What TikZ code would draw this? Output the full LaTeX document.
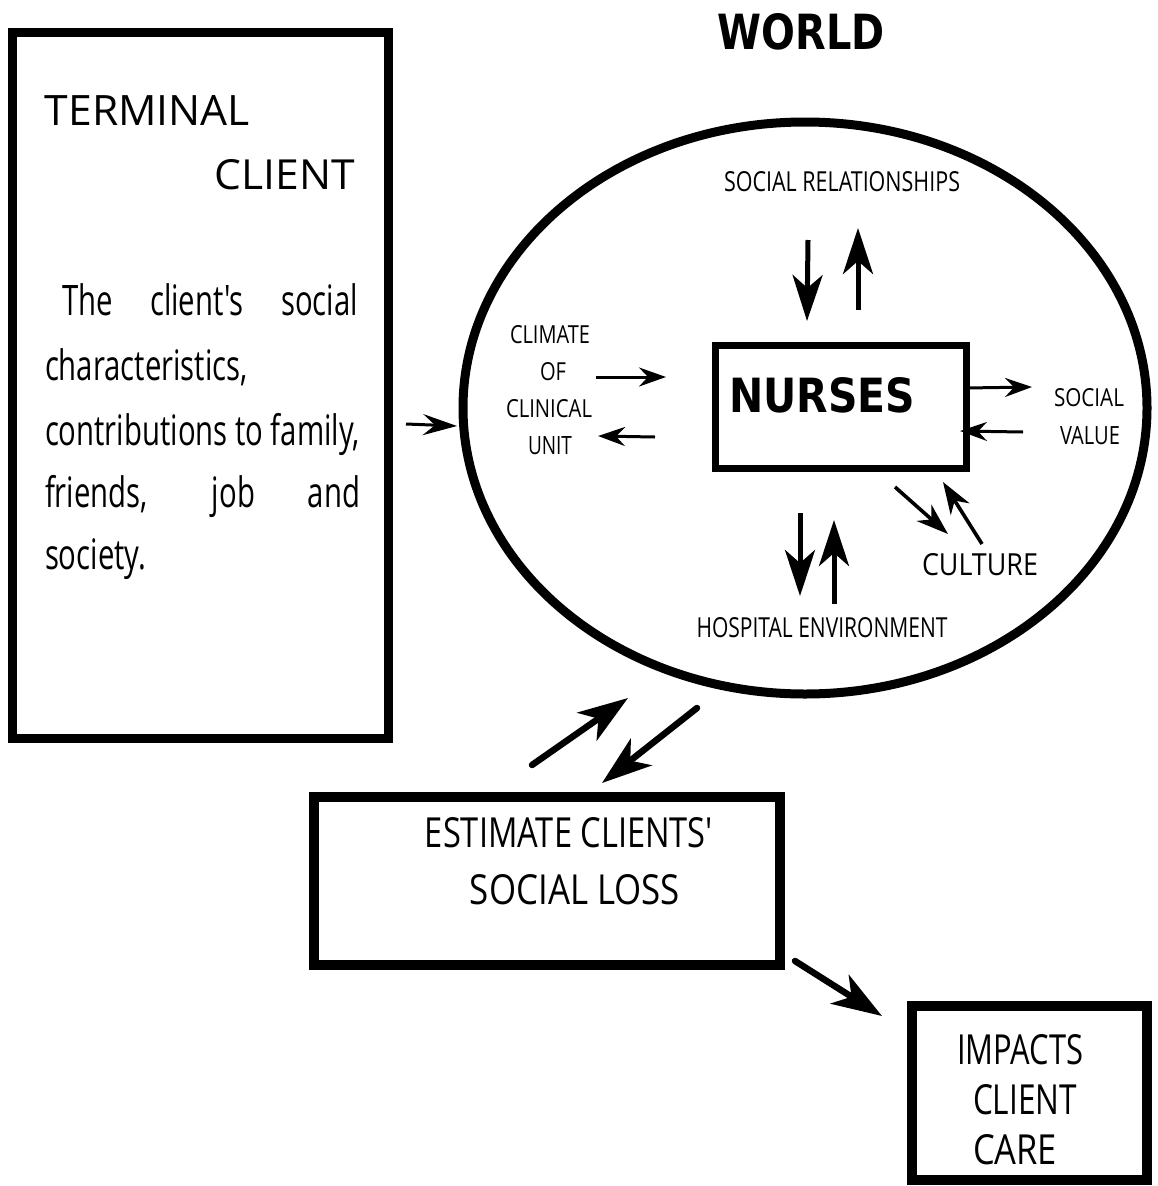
\documentclass[tikz,border=0pt]{standalone}
\usepackage{fontspec}
\usepackage{graphicx}
\usetikzlibrary{arrows.meta,shapes.geometric}
\setmainfont{Open Sans}
\newfontfamily\labf{Open Sans}
\newfontfamily\heavyf{DejaVu Sans}
\newfontfamily\bodyf{Open Sans}
\newcommand\fitt[3]{\resizebox{#1pt}{#2pt}{#3}}
\newcommand\bodysize{\bodyf\fontsize{42}{50}\selectfont}
\newlength\bodynat
\tikzset{
  lbl/.style={inner sep=0pt, outer sep=0pt},
  thinarr/.style={line width=3pt, -{Stealth[length=27pt,width=19pt,inset=9pt]}},
  entryarr/.style={line width=3pt, -{Stealth[length=34pt,width=21pt,inset=12pt]}},
  midarr/.style={line width=5pt, -{Stealth[length=46pt,width=30pt,inset=13pt]}},
  boldarr/.style={line width=6.5pt, line cap=round, -{Stealth[length=50pt,width=34pt,inset=14pt]}},
  cularr/.style={line width=3.6pt, -{Stealth[length=32pt,width=22pt,inset=10pt]}}
}
\begin{document}
\settowidth{\bodynat}{\bodysize contributions to family,}%
\pgfmathsetmacro\bsx{315/\bodynat}%
\pgfmathsetmacro\wA{296/\bsx}%
\pgfmathsetmacro\wB{315/\bsx}%
\begin{tikzpicture}[x=1pt,y=-1pt]
\fill[white] (0,0) rectangle (1157,1186);
\useasboundingbox (0,0) rectangle (1157,1186);

% ---------- left box ----------
\node[draw, line width=9pt, minimum width=376pt, minimum height=706pt, inner sep=0pt] (term) at (200,385) {};
\node[lbl] (terminal) at (147.5,110) {\fitt{205}{30}{\labf TERMINAL}};
\node[lbl] (client) at (285,175) {\fitt{140}{30}{\labf CLIENT}};

\node[lbl, anchor=base west] (b1) at (62,315) {\scalebox{\bsx}[1]{\bodysize\makebox[\wA pt][s]{The client's social}}};
\node[lbl, anchor=base west] (b2) at (45,380) {\scalebox{\bsx}[1]{\bodysize characteristics,}};
\node[lbl, anchor=base west] (b3) at (45,445) {\scalebox{\bsx}[1]{\bodysize contributions to family,}};
\node[lbl, anchor=base west] (b4) at (45,507) {\scalebox{\bsx}[1]{\bodysize\makebox[\wB pt][s]{friends, job and}}};
\node[lbl, anchor=base west] (b5) at (45,569) {\scalebox{\bsx}[1]{\bodysize society.}};

% ---------- world ellipse ----------
\node[lbl] (worldlbl) at (801,32) {\fitt{167}{36}{\heavyf\bfseries WORLD}};
\node[ellipse, draw, line width=9pt, minimum width=684pt, minimum height=572pt, inner sep=0pt] (world) at (805,408) {};

\node[draw, line width=7pt, minimum width=251pt, minimum height=123pt, inner sep=0pt] (nursebox) at (841,407) {};
\node[lbl] (nurses) at (822,395) {\fitt{186}{35}{\heavyf\bfseries NURSES}};

\node[lbl] (socrel) at (842,182) {\fitt{236}{20}{\labf SOCIAL RELATIONSHIPS}};
\node[lbl] (clim1) at (550,335) {\fitt{80}{18}{\labf CLIMATE}};
\node[lbl] (clim2) at (553,372) {\fitt{26}{18}{\labf OF}};
\node[lbl] (clim3) at (549,409) {\fitt{86}{18}{\labf CLINICAL}};
\node[lbl] (clim4) at (550,446) {\fitt{44}{18}{\labf UNIT}};
\node[lbl] (sv1) at (1089,398) {\fitt{70}{18}{\labf SOCIAL}};
\node[lbl] (sv2) at (1090,436) {\fitt{60}{18}{\labf VALUE}};
\node[lbl] (culture) at (980,565) {\fitt{116}{22}{\labf CULTURE}};
\node[lbl] (hosp) at (822,628) {\fitt{251}{20}{\labf HOSPITAL ENVIRONMENT}};

% ---------- estimate box ----------
\node[draw, line width=10pt, minimum width=466pt, minimum height=168pt, inner sep=0pt] (estbox) at (547,881) {};
\node[lbl] (est1) at (569,833) {\fitt{288}{30}{\labf ESTIMATE CLIENTS'}};
\node[lbl] (est2) at (575,890) {\fitt{210}{30}{\labf SOCIAL LOSS}};

% ---------- impacts box ----------
\node[draw, line width=10pt, minimum width=235pt, minimum height=174pt, inner sep=0pt] (impbox) at (1029.5,1093) {};
\node[lbl] (imp1) at (1020,1050) {\fitt{126}{30}{\labf IMPACTS}};
\node[lbl] (imp2) at (1025,1100) {\fitt{104}{30}{\labf CLIENT}};
\node[lbl] (imp3) at (1015,1150) {\fitt{84}{30}{\labf CARE}};

% ---------- arrow end points ----------
\coordinate (e1s) at (406,424); \coordinate (e1e) at (457,426);
\coordinate (c1s) at (596,377); \coordinate (c1e) at (666,377);
\coordinate (c2s) at (655,437); \coordinate (c2e) at (598,436);
\coordinate (v1s) at (966,388); \coordinate (v1e) at (1032,387);
\coordinate (v2s) at (1023,432); \coordinate (v2e) at (960,431);
\coordinate (r1s) at (808,240); \coordinate (r1e) at (807,321);
\coordinate (r2s) at (858,310); \coordinate (r2e) at (858,228);
\coordinate (h1s) at (800,513); \coordinate (h1e) at (800,596);
\coordinate (h2s) at (834,604); \coordinate (h2e) at (834,520);
\coordinate (u1s) at (895,487); \coordinate (u1e) at (948,534);
\coordinate (u2s) at (982,544); \coordinate (u2e) at (943,482);
\coordinate (w1s) at (532,765); \coordinate (w1e) at (628,698);
\coordinate (w2s) at (697,708); \coordinate (w2e) at (602,783);
\coordinate (i1s) at (795,961); \coordinate (i1e) at (882,1016);

\draw[entryarr] (e1s) -- (e1e);
\draw[thinarr] (c1s) -- (c1e);
\draw[thinarr] (c2s) -- (c2e);
\draw[thinarr] (v1s) -- (v1e);
\draw[thinarr] (v2s) -- (v2e);
\draw[midarr] (r1s) -- (r1e);
\draw[midarr] (r2s) -- (r2e);
\draw[midarr] (h1s) -- (h1e);
\draw[midarr] (h2s) -- (h2e);
\draw[cularr] (u1s) -- (u1e);
\draw[cularr] (u2s) -- (u2e);
\draw[boldarr] (w1s) -- (w1e);
\draw[boldarr] (w2s) -- (w2e);
\draw[boldarr] (i1s) -- (i1e);
\end{tikzpicture}
\end{document}
